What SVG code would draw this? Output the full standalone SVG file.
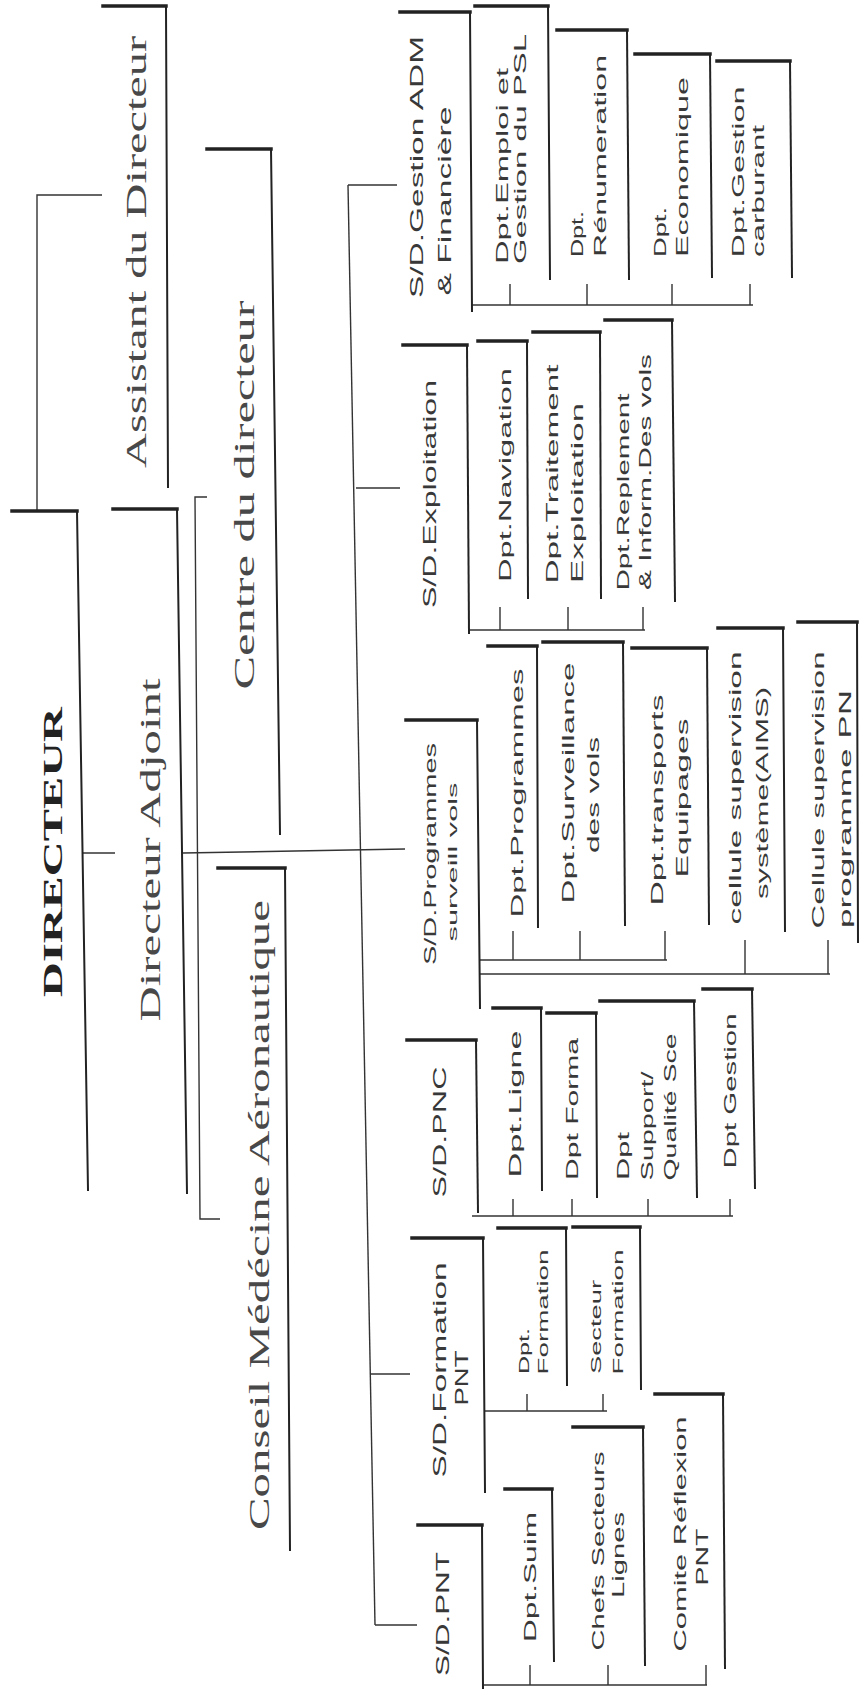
<svg xmlns="http://www.w3.org/2000/svg" width="860" height="1697" viewBox="0 0 860 1697">
<style>
.bx{fill:none;stroke:#222;stroke-linecap:square}
.tp{stroke-width:3.5}
.ed{stroke-width:2}
.cn{fill:none;stroke:#333;stroke-width:1.4}
text{fill:#383838;text-anchor:middle;dominant-baseline:central;}
.sf{font-family:"Liberation Serif","Times New Roman",serif;font-size:30px;fill:#484848}
.sfb{font-family:"Liberation Serif","Times New Roman",serif;font-size:28px;font-weight:bold;fill:#222}
.s18{font-family:"Liberation Sans",Arial,sans-serif;font-size:18px}
.s16{font-family:"Liberation Sans",Arial,sans-serif;font-size:16px}
.s15{font-family:"Liberation Sans",Arial,sans-serif;font-size:15px}
.s12{font-family:"Liberation Sans",Arial,sans-serif;font-size:12px}
</style>
<rect width="860" height="1697" fill="#fff"/>

<g id="connectors">
<polyline class="cn" points="102,195 37,195 37,511"/>
<line class="cn" x1="82" y1="853" x2="115" y2="853"/>
<line class="cn" x1="183" y1="853" x2="405" y2="849"/>
<polyline class="cn" points="207,497 195,497 200,1219 220,1219"/>
<line class="cn" x1="348" y1="185" x2="375" y2="1625"/>
<line class="cn" x1="348" y1="185" x2="397" y2="185"/>
<line class="cn" x1="356" y1="488" x2="400" y2="488"/>
<line class="cn" x1="370" y1="1374" x2="410" y2="1374"/>
<line class="cn" x1="375" y1="1625" x2="417" y2="1625"/>
<line class="cn" x1="472" y1="305" x2="753" y2="305"/>
<path class="cn" d="M510,284V305M587,284V305M672,284V305M750,284V305"/>
<line class="cn" x1="468" y1="630" x2="645" y2="630"/>
<path class="cn" d="M500,607V630M568,607V630M643,607V630"/>
<line class="cn" x1="480" y1="960" x2="667" y2="960"/>
<path class="cn" d="M513,931V960M580,931V960M665,931V960"/>
<line class="cn" x1="480" y1="974" x2="830" y2="974"/>
<path class="cn" d="M745,940V974M828,940V974"/>
<line class="cn" x1="472" y1="1216" x2="733" y2="1216"/>
<path class="cn" d="M513,1199V1216M572,1199V1216M648,1199V1216M730,1199V1216"/>
<line class="cn" x1="485" y1="1411" x2="607" y2="1411"/>
<path class="cn" d="M527,1394V1411M603,1394V1411"/>
<line class="cn" x1="483" y1="1685" x2="707" y2="1685"/>
<path class="cn" d="M530,1665V1685M608,1665V1685M706,1665V1685"/>
</g>

<g id="directeur">
<line class="bx tp" x1="12" y1="511" x2="77" y2="511"/>
<line class="bx ed" x1="77" y1="511" x2="88" y2="1190"/>
<text class="sfb" transform="translate(52,852) rotate(-90)" textLength="290" lengthAdjust="spacingAndGlyphs">DIRECTEUR</text>
</g>
<g id="assistant">
<line class="bx tp" x1="103" y1="6" x2="166" y2="6"/>
<line class="bx ed" x1="166" y1="6" x2="168" y2="487"/>
<text class="sf" transform="translate(135,252) rotate(-90)" textLength="432" lengthAdjust="spacingAndGlyphs">Assistant du Directeur</text>
</g>
<g id="adjoint">
<line class="bx tp" x1="113" y1="509" x2="177" y2="509"/>
<line class="bx ed" x1="177" y1="509" x2="187" y2="1193"/>
<text class="sf" transform="translate(149,850) rotate(-90)" textLength="343" lengthAdjust="spacingAndGlyphs">Directeur Adjoint</text>
</g>
<g id="centre">
<line class="bx tp" x1="207" y1="149" x2="271" y2="149"/>
<line class="bx ed" x1="271" y1="149" x2="280" y2="834"/>
<text class="sf" transform="translate(243,495) rotate(-90)" textLength="389" lengthAdjust="spacingAndGlyphs">Centre du directeur</text>
</g>
<g id="conseil">
<line class="bx tp" x1="218" y1="868" x2="285" y2="868"/>
<line class="bx ed" x1="285" y1="868" x2="290" y2="1550"/>
<text class="sf" transform="translate(258,1215) rotate(-90)" textLength="630" lengthAdjust="spacingAndGlyphs">Conseil Médécine Aéronautique</text>
</g>

<g id="sd-gestion">
<line class="bx tp" x1="400" y1="12" x2="470" y2="12"/>
<line class="bx ed" x1="470" y1="12" x2="472" y2="311"/>
<text class="s18" transform="translate(417,167) rotate(-90)" textLength="262" lengthAdjust="spacingAndGlyphs">S/D.Gestion ADM</text>
<text class="s18" transform="translate(445,201) rotate(-90)" textLength="189" lengthAdjust="spacingAndGlyphs">&amp; Financière</text>
</g>
<g id="dpt-emploi">
<line class="bx tp" x1="475" y1="6" x2="548" y2="6"/>
<line class="bx ed" x1="548" y1="6" x2="550" y2="279"/>
<text class="s16" transform="translate(502,166) rotate(-90)" textLength="196" lengthAdjust="spacingAndGlyphs">Dpt.Emploi et</text>
<text class="s16" transform="translate(520,149) rotate(-90)" textLength="230" lengthAdjust="spacingAndGlyphs">Gestion du PSL</text>
</g>
<g id="dpt-renumeration">
<line class="bx tp" x1="557" y1="30" x2="627" y2="30"/>
<line class="bx ed" x1="627" y1="30" x2="629" y2="279"/>
<text class="s16" transform="translate(577,234) rotate(-90)" textLength="46" lengthAdjust="spacingAndGlyphs">Dpt.</text>
<text class="s16" transform="translate(600,156) rotate(-90)" textLength="202" lengthAdjust="spacingAndGlyphs">Rénumeration</text>
</g>
<g id="dpt-economique">
<line class="bx tp" x1="635" y1="54" x2="710" y2="54"/>
<line class="bx ed" x1="710" y1="54" x2="712" y2="277"/>
<text class="s16" transform="translate(660,232) rotate(-90)" textLength="50" lengthAdjust="spacingAndGlyphs">Dpt.</text>
<text class="s16" transform="translate(682,167) rotate(-90)" textLength="180" lengthAdjust="spacingAndGlyphs">Economique</text>
</g>
<g id="dpt-carburant">
<line class="bx tp" x1="717" y1="61" x2="790" y2="61"/>
<line class="bx ed" x1="790" y1="61" x2="792" y2="277"/>
<text class="s16" transform="translate(738,172) rotate(-90)" textLength="171" lengthAdjust="spacingAndGlyphs">Dpt.Gestion</text>
<text class="s16" transform="translate(758,191) rotate(-90)" textLength="132" lengthAdjust="spacingAndGlyphs">carburant</text>
</g>

<g id="sd-exploitation">
<line class="bx tp" x1="403" y1="345" x2="467" y2="345"/>
<line class="bx ed" x1="467" y1="345" x2="469" y2="633"/>
<text class="s18" transform="translate(430,494) rotate(-90)" textLength="228" lengthAdjust="spacingAndGlyphs">S/D.Exploitation</text>
</g>
<g id="dpt-navigation">
<line class="bx tp" x1="478" y1="341" x2="527" y2="341"/>
<line class="bx ed" x1="527" y1="341" x2="528" y2="598"/>
<text class="s16" transform="translate(505,475) rotate(-90)" textLength="214" lengthAdjust="spacingAndGlyphs">Dpt.Navigation</text>
</g>
<g id="dpt-traitement">
<line class="bx tp" x1="533" y1="332" x2="600" y2="332"/>
<line class="bx ed" x1="600" y1="332" x2="601" y2="598"/>
<text class="s16" transform="translate(552,474) rotate(-90)" textLength="219" lengthAdjust="spacingAndGlyphs">Dpt.Traitement</text>
<text class="s16" transform="translate(577,493) rotate(-90)" textLength="180" lengthAdjust="spacingAndGlyphs">Exploitation</text>
</g>
<g id="dpt-replement">
<line class="bx tp" x1="605" y1="320" x2="672" y2="320"/>
<line class="bx ed" x1="672" y1="320" x2="675" y2="601"/>
<text class="s16" transform="translate(623,492) rotate(-90)" textLength="197" lengthAdjust="spacingAndGlyphs">Dpt.Replement</text>
<text class="s16" transform="translate(645,472) rotate(-90)" textLength="236" lengthAdjust="spacingAndGlyphs">&amp; Inform.Des vols</text>
</g>

<g id="sd-programmes">
<line class="bx tp" x1="406" y1="720" x2="477" y2="720"/>
<line class="bx ed" x1="477" y1="720" x2="480" y2="1008"/>
<text class="s16" transform="translate(430,854) rotate(-90)" textLength="222" lengthAdjust="spacingAndGlyphs">S/D.Programmes</text>
<text class="s12" transform="translate(453,862) rotate(-90)" textLength="159" lengthAdjust="spacingAndGlyphs">surveill vols</text>
</g>
<g id="dpt-programmes">
<line class="bx tp" x1="488" y1="646" x2="537" y2="646"/>
<line class="bx ed" x1="537" y1="646" x2="538" y2="927"/>
<text class="s16" transform="translate(517,793) rotate(-90)" textLength="249" lengthAdjust="spacingAndGlyphs">Dpt.Programmes</text>
</g>
<g id="dpt-surveillance">
<line class="bx tp" x1="543" y1="642" x2="623" y2="642"/>
<line class="bx ed" x1="623" y1="642" x2="625" y2="925"/>
<text class="s16" transform="translate(568,783) rotate(-90)" textLength="241" lengthAdjust="spacingAndGlyphs">Dpt.Surveillance</text>
<text class="s16" transform="translate(593,795) rotate(-90)" textLength="116" lengthAdjust="spacingAndGlyphs">des vols</text>
</g>
<g id="dpt-transports">
<line class="bx tp" x1="632" y1="648" x2="707" y2="648"/>
<line class="bx ed" x1="707" y1="648" x2="709" y2="924"/>
<text class="s16" transform="translate(657,800) rotate(-90)" textLength="211" lengthAdjust="spacingAndGlyphs">Dpt.transports</text>
<text class="s16" transform="translate(682,798) rotate(-90)" textLength="159" lengthAdjust="spacingAndGlyphs">Equipages</text>
</g>
<g id="cellule-aims">
<line class="bx tp" x1="718" y1="628" x2="783" y2="628"/>
<line class="bx ed" x1="783" y1="628" x2="785" y2="931"/>
<text class="s16" transform="translate(735,788) rotate(-90)" textLength="273" lengthAdjust="spacingAndGlyphs">cellule supervision</text>
<text class="s16" transform="translate(762,793) rotate(-90)" textLength="212" lengthAdjust="spacingAndGlyphs">système(AIMS)</text>
</g>
<g id="cellule-pn">
<line class="bx tp" x1="798" y1="622" x2="857" y2="622"/>
<line class="bx ed" x1="857" y1="622" x2="858" y2="942"/>
<text class="s16" transform="translate(818,790) rotate(-90)" textLength="277" lengthAdjust="spacingAndGlyphs">Cellule supervision</text>
<text class="s16" transform="translate(845,809) rotate(-90)" textLength="238" lengthAdjust="spacingAndGlyphs">programme PN</text>
</g>

<g id="sd-pnc">
<line class="bx tp" x1="407" y1="1040" x2="476" y2="1040"/>
<line class="bx ed" x1="476" y1="1040" x2="478" y2="1212"/>
<text class="s18" transform="translate(440,1132) rotate(-90)" textLength="131" lengthAdjust="spacingAndGlyphs">S/D.PNC</text>
</g>
<g id="dpt-ligne">
<line class="bx tp" x1="493" y1="1008" x2="541" y2="1008"/>
<line class="bx ed" x1="541" y1="1008" x2="542" y2="1190"/>
<text class="s16" transform="translate(515,1104) rotate(-90)" textLength="147" lengthAdjust="spacingAndGlyphs">Dpt.Ligne</text>
</g>
<g id="dpt-forma">
<line class="bx tp" x1="547" y1="1013" x2="596" y2="1013"/>
<line class="bx ed" x1="596" y1="1013" x2="597" y2="1197"/>
<text class="s16" transform="translate(572,1109) rotate(-90)" textLength="142" lengthAdjust="spacingAndGlyphs">Dpt Forma</text>
</g>
<g id="dpt-support">
<line class="bx tp" x1="600" y1="1001" x2="694" y2="1001"/>
<line class="bx ed" x1="694" y1="1001" x2="697" y2="1197"/>
<text class="s16" transform="translate(623,1156) rotate(-90)" textLength="48" lengthAdjust="spacingAndGlyphs">Dpt</text>
<text class="s16" transform="translate(647,1126) rotate(-90)" textLength="109" lengthAdjust="spacingAndGlyphs">Support/</text>
<text class="s16" transform="translate(670,1107) rotate(-90)" textLength="147" lengthAdjust="spacingAndGlyphs">Qualité Sce</text>
</g>
<g id="dpt-gestion">
<line class="bx tp" x1="703" y1="989" x2="752" y2="989"/>
<line class="bx ed" x1="752" y1="989" x2="755" y2="1188"/>
<text class="s16" transform="translate(730,1091) rotate(-90)" textLength="155" lengthAdjust="spacingAndGlyphs">Dpt Gestion</text>
</g>

<g id="sd-formation">
<line class="bx tp" x1="412" y1="1238" x2="483" y2="1238"/>
<line class="bx ed" x1="483" y1="1238" x2="485" y2="1492"/>
<text class="s18" transform="translate(440,1370) rotate(-90)" textLength="215" lengthAdjust="spacingAndGlyphs">S/D.Formation</text>
<text class="s18" transform="translate(462,1378) rotate(-90)" textLength="55" lengthAdjust="spacingAndGlyphs">PNT</text>
</g>
<g id="dpt-formation">
<line class="bx tp" x1="498" y1="1228" x2="566" y2="1228"/>
<line class="bx ed" x1="566" y1="1228" x2="567" y2="1385"/>
<text class="s15" transform="translate(523,1351) rotate(-90)" textLength="46" lengthAdjust="spacingAndGlyphs">Dpt.</text>
<text class="s15" transform="translate(542,1312) rotate(-90)" textLength="125" lengthAdjust="spacingAndGlyphs">Formation</text>
</g>
<g id="secteur-formation">
<line class="bx tp" x1="573" y1="1227" x2="640" y2="1227"/>
<line class="bx ed" x1="640" y1="1227" x2="641" y2="1389"/>
<text class="s15" transform="translate(595,1327) rotate(-90)" textLength="94" lengthAdjust="spacingAndGlyphs">Secteur</text>
<text class="s15" transform="translate(617,1312) rotate(-90)" textLength="125" lengthAdjust="spacingAndGlyphs">Formation</text>
</g>

<g id="sd-pnt">
<line class="bx tp" x1="418" y1="1525" x2="482" y2="1525"/>
<line class="bx ed" x1="482" y1="1525" x2="483" y2="1688"/>
<text class="s18" transform="translate(443,1614) rotate(-90)" textLength="124" lengthAdjust="spacingAndGlyphs">S/D.PNT</text>
</g>
<g id="dpt-suim">
<line class="bx tp" x1="505" y1="1489" x2="552" y2="1489"/>
<line class="bx ed" x1="552" y1="1489" x2="554" y2="1661"/>
<text class="s16" transform="translate(530,1577) rotate(-90)" textLength="130" lengthAdjust="spacingAndGlyphs">Dpt.Suim</text>
</g>
<g id="chefs-secteurs">
<line class="bx tp" x1="573" y1="1427" x2="643" y2="1427"/>
<line class="bx ed" x1="643" y1="1427" x2="645" y2="1665"/>
<text class="s16" transform="translate(598,1551) rotate(-90)" textLength="199" lengthAdjust="spacingAndGlyphs">Chefs Secteurs</text>
<text class="s16" transform="translate(618,1555) rotate(-90)" textLength="86" lengthAdjust="spacingAndGlyphs">Lignes</text>
</g>
<g id="comite-reflexion">
<line class="bx tp" x1="655" y1="1394" x2="723" y2="1394"/>
<line class="bx ed" x1="723" y1="1394" x2="725" y2="1668"/>
<text class="s16" transform="translate(680,1534) rotate(-90)" textLength="235" lengthAdjust="spacingAndGlyphs">Comite Réflexion</text>
<text class="s16" transform="translate(702,1557) rotate(-90)" textLength="57" lengthAdjust="spacingAndGlyphs">PNT</text>
</g>
</svg>
